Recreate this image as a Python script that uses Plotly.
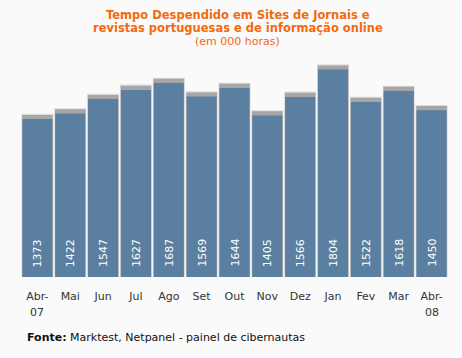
import plotly.graph_objects as go

months = ["Abr-", "Mai", "Jun", "Jul", "Ago", "Set", "Out", "Nov", "Dez", "Jan", "Fev", "Mar", "Abr-"]
years = {0: "07", 12: "08"}
values = [1373, 1422, 1547, 1627, 1687, 1569, 1644, 1405, 1566, 1804, 1522, 1618, 1450]

title_l1 = "Tempo Despendido em Sites de Jornais e"
title_l2 = "revistas portuguesas e de informação online"
subtitle = "(em 000 horas)"
source = "<b>Fonte:</b> Marktest, Netpanel - painel de cibernautas"

BLUE = "#5a7fa0"
ORANGE = "#f26a10"
FONT = "DejaVu Sans"
xs = list(range(len(values)))

fig = go.Figure()
# soft outer shadow
fig.add_trace(go.Bar(x=xs, y=[v + 46 for v in values], width=0.975,
                     marker=dict(color="#dcdcdc", line=dict(width=0)), hoverinfo="skip"))
# darker top cap
fig.add_trace(go.Bar(x=xs, y=[v + 36 for v in values], width=0.93,
                     marker=dict(color="#a6a6a6", line=dict(width=0)), hoverinfo="skip"))
# main bars
fig.add_trace(go.Bar(x=xs, y=values, width=0.915,
                     marker=dict(color=BLUE, line=dict(width=0))))

annotations = []
for x, v in zip(xs, values):
    annotations.append(dict(x=x, y=0, xref="x", yref="y", text=str(v), showarrow=False,
                            textangle=-90, yanchor="bottom", yshift=8,
                            font=dict(family=FONT, size=11, color="white")))
for x, yr in years.items():
    annotations.append(dict(x=x, y=0, xref="x", yref="y", text=yr, showarrow=False,
                            yanchor="top", yshift=-27,
                            font=dict(family=FONT, size=11, color="#333333")))

annotations += [
    dict(x=0.508, y=1.139, xref="paper", yref="paper", text="<b>" + title_l1 + "</b>", showarrow=False,
         yanchor="middle", font=dict(family=FONT, size=11.5, color=ORANGE)),
    dict(x=0.508, y=1.083, xref="paper", yref="paper", text="<b>" + title_l2 + "</b>", showarrow=False,
         yanchor="middle", font=dict(family=FONT, size=11.5, color=ORANGE)),
    dict(x=0.508, y=1.022, xref="paper", yref="paper", text=subtitle, showarrow=False,
         yanchor="middle", font=dict(family=FONT, size=11, color=ORANGE)),
    dict(x=0.009, y=-0.261, xref="paper", yref="paper", text=source, showarrow=False,
         xanchor="left", yanchor="middle", font=dict(family=FONT, size=11, color="#111111")),
]

fig.update_layout(
    width=462, height=358,
    margin=dict(l=21, r=14, t=47, b=81),
    paper_bgcolor="#fafafa", plot_bgcolor="#fafafa",
    barmode="overlay", showlegend=False,
    annotations=annotations,
    xaxis=dict(tickmode="array", tickvals=xs, ticktext=months, range=[-0.5, len(values) - 0.5],
               showgrid=False, zeroline=False, showline=False,
               ticks="outside", ticklen=9, tickcolor="rgba(0,0,0,0)",
               tickfont=dict(family=FONT, size=11, color="#333333")),
    yaxis=dict(range=[0, 2000], showgrid=False, zeroline=False, showline=False, showticklabels=False),
)

fig.write_html("out.html", config={"displayModeBar": False},
               post_script="document.body.style.margin='0';")
